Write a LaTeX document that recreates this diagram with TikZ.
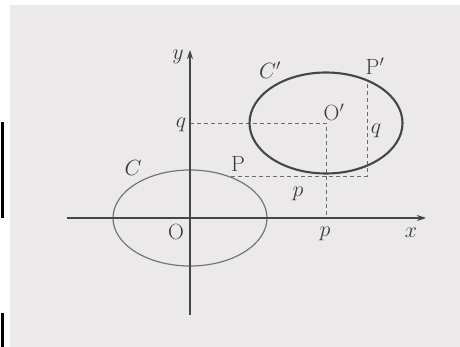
\RequirePackage{fix-cm}
\documentclass[tikz,border=0pt]{standalone}
\usetikzlibrary{arrows.meta}
\definecolor{paper}{RGB}{236,233,235}
\definecolor{ink}{RGB}{70,70,74}
\begin{document}
\begin{tikzpicture}[x=1pt,y=-1pt,
  axis/.style={draw=ink,line width=1.1pt,-{Stealth[length=9pt,width=6pt]}},
  guide/.style={draw=ink!80,line width=0.9pt,dash pattern=on 4pt off 3pt},
  lbl/.style={text=ink!85!black,inner sep=0pt,font=\fontsize{22}{24}\selectfont}]
\useasboundingbox (0,0) rectangle (460,347);
\fill[white] (0,0) rectangle (460,347);
\fill[paper] (10,5) rectangle (460,347);
\fill[black] (1,122) rectangle (4,218);
\fill[black] (1,313) rectangle (4,347);
% key points
\coordinate (O) at (190,218);
\coordinate (Oq) at (326,123);
\coordinate (Op) at (326,218);
\coordinate (Yq) at (190,123);
\coordinate (Pp) at (367,81);
\coordinate (P) at (231,176);
\coordinate (PpB) at (367,176);
\coordinate (xs) at (67,218);
\coordinate (xe) at (426,218);
\coordinate (ys) at (190,315);
\coordinate (ye) at (190,50);
% dashed guides
\draw[guide] (Yq) -- (Oq) -- (Op);
\draw[guide] (P) -- (PpB) -- (Pp);
% ellipses
\draw[draw=ink!75,line width=1.2pt] (O) ellipse [x radius=77pt,y radius=48pt];
\draw[draw=ink,line width=2.1pt] (Oq) ellipse [x radius=76.5pt,y radius=50.5pt];
% axes
\draw[axis] (xs) -- (xe);
\draw[axis] (ys) -- (ye);
% labels
\node[lbl] (ly) at (178,57) {$y$};
\node[lbl] (lx) at (411,233) {$x$};
\node[lbl] (lO) at (176,232) {O};
\node[lbl] (lp) at (325,234) {$p$};
\node[lbl] (lq) at (181,125) {$q$};
\node[lbl] (lC) at (133,168) {$C$};
\node[lbl] (lP) at (238,164) {P};
\node[lbl] (lp2) at (298,194) {$p$};
\node[lbl] (lOp) at (334,112) {O$'$};
\node[lbl] (lq2) at (376,131) {$q$};
\node[lbl] (lCp) at (270,70) {$C'$};
\node[lbl] (lPp) at (375,66) {P$'$};
\end{tikzpicture}
\end{document}
